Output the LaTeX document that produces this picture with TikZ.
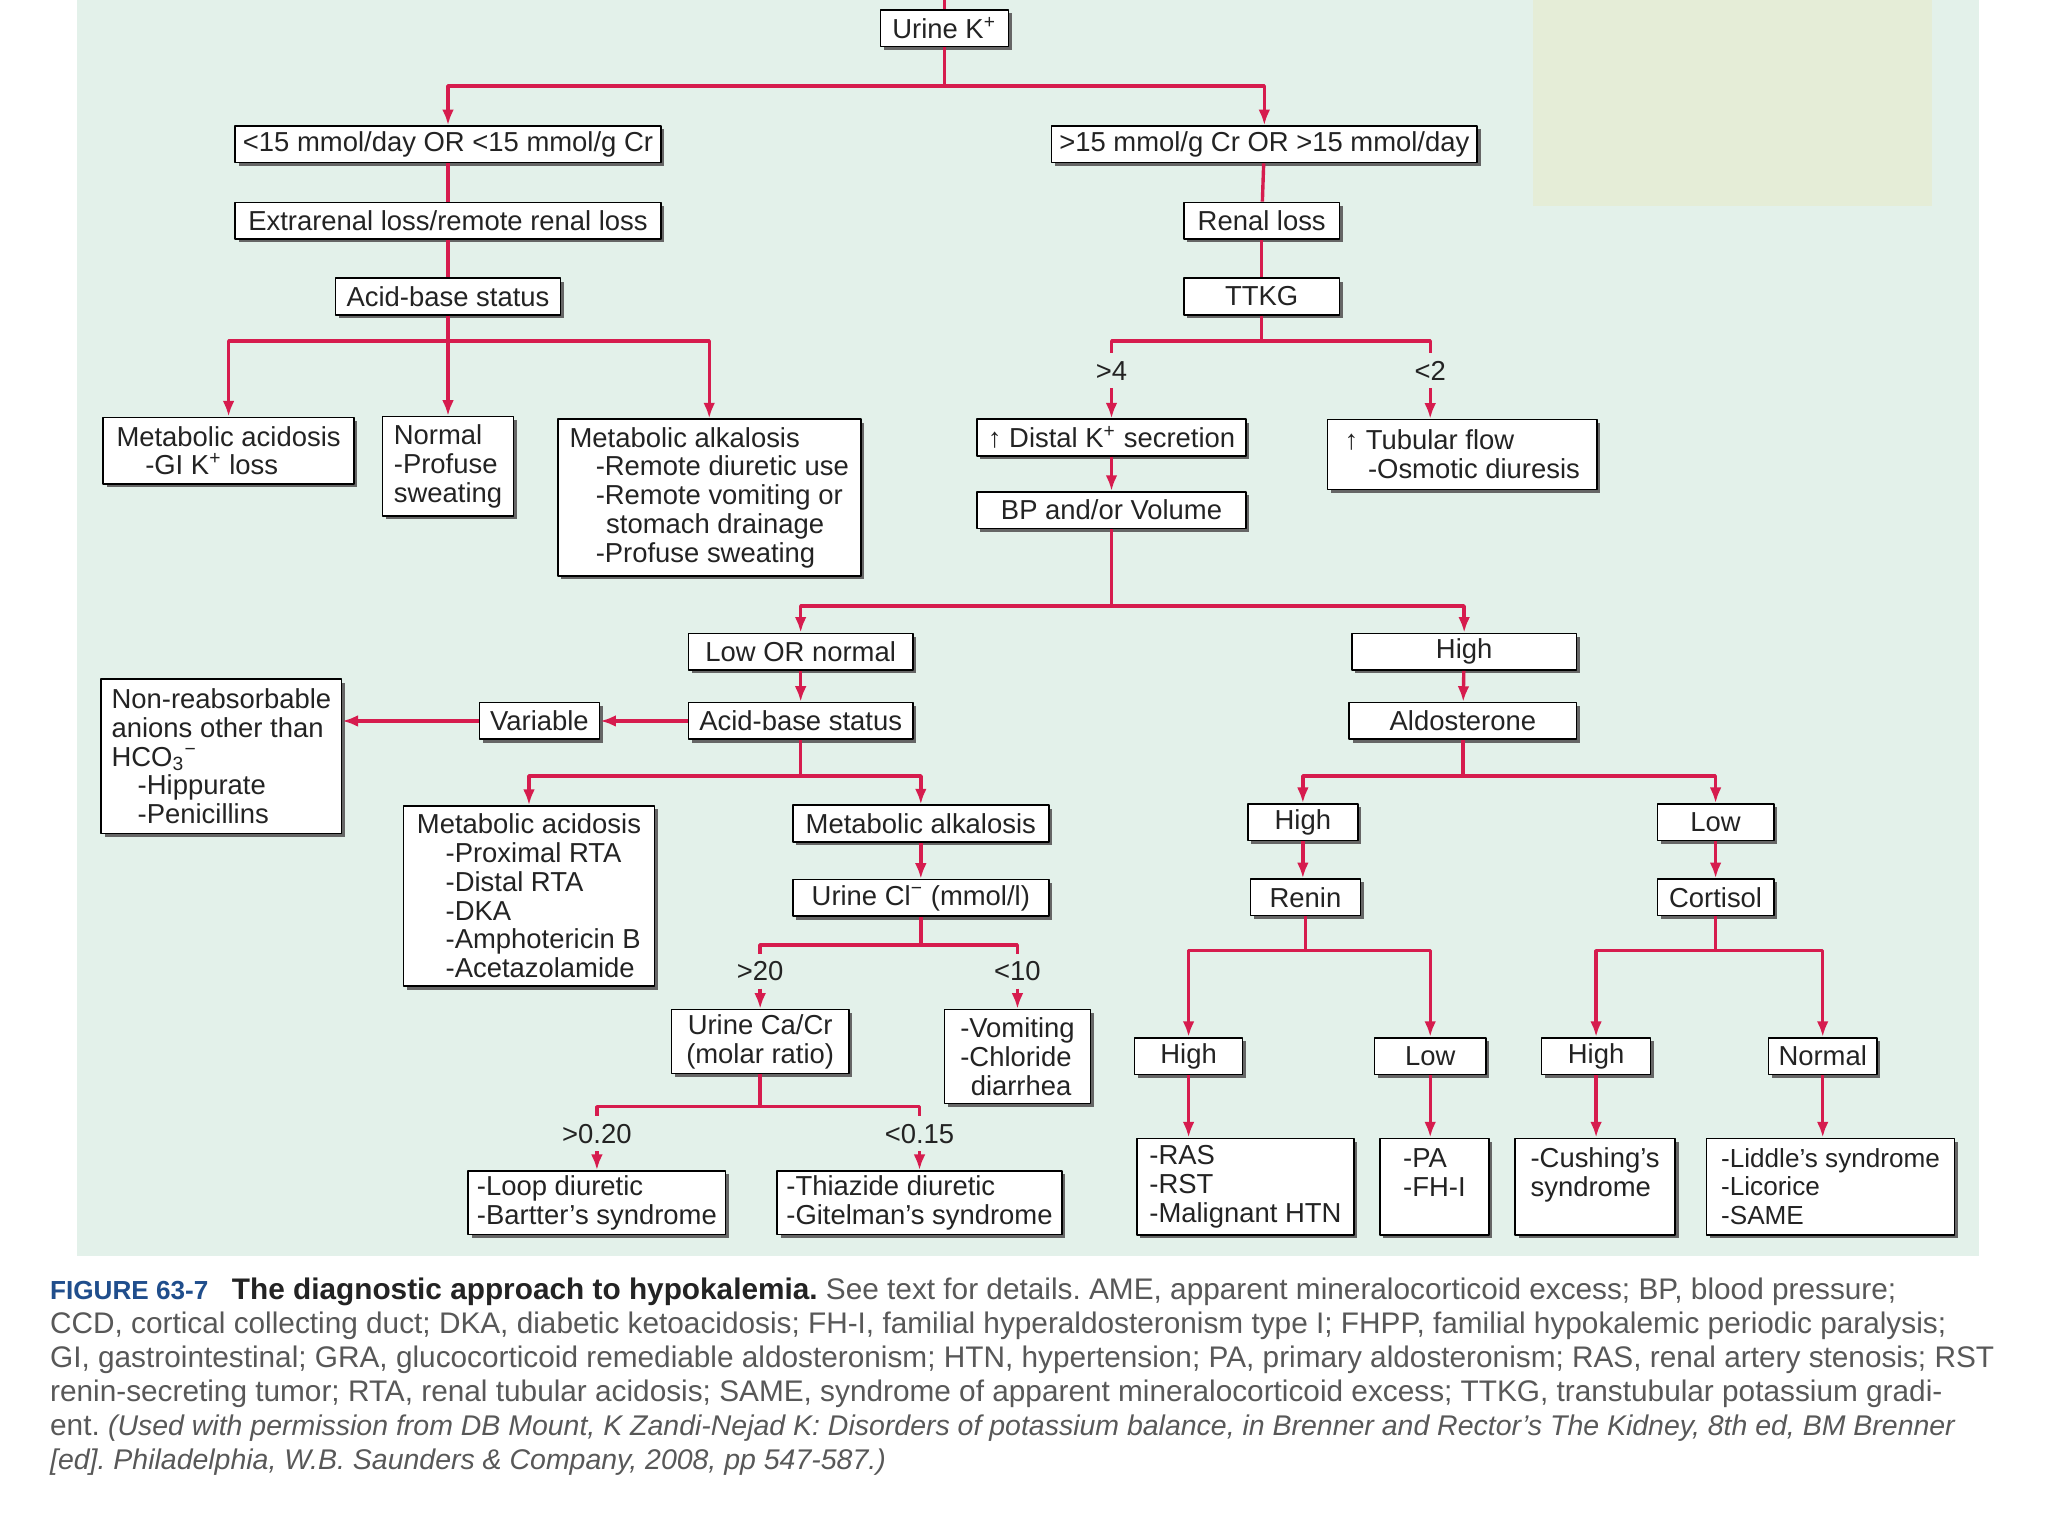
\documentclass[tikz,border=0pt]{standalone}
\usepackage{fontspec}
\setmainfont{Liberation Sans}
\usepackage{tikz}
\usetikzlibrary{arrows.meta}
\usetikzlibrary{shadows}

\definecolor{linkred}{RGB}{214,28,78}
\definecolor{bggreen}{RGB}{227,241,234}
\definecolor{bgyellow}{RGB}{229,237,215}
\definecolor{figblue}{RGB}{32,78,140}
\definecolor{capgray}{RGB}{88,88,88}
\definecolor{txtdark}{RGB}{35,35,35}

\newcommand{\diagfont}{\fontsize{10.5}{11}\selectfont}
\newcommand{\capfont}{\fontsize{11.4}{13}\selectfont\frenchspacing}
\newcommand{\capital}{\fontsize{10.9}{13}\selectfont\itshape}

\begin{document}
\begin{tikzpicture}[x=0.5pt,y=-0.5pt,>={Latex[length=6pt,width=4.5pt]},line join=bevel,
  box/.style={draw=black,line width=0.6pt,fill=white,text=txtdark,font=\diagfont,
    inner xsep=3pt,inner ysep=1pt,minimum height=14pt,
    drop shadow={shadow xshift=1.3pt,shadow yshift=-1.3pt,fill=black!60,opacity=1}},
  mbox/.style={box,align=left},
  lbl/.style={text=txtdark,font=\diagfont,inner sep=0pt,minimum height=13pt},
  link/.style={draw=linkred,line width=1.3pt},
  arr/.style={link,->},
]
%% background
\useasboundingbox (0,0) rectangle (1568,1176);
\fill [white] (0,0) rectangle (1568,1176);
\fill [bggreen] (59,0) rectangle (1515,962);
\fill [bgyellow] (1174,0) rectangle (1479,158);
%% boxes
\node (node_urine) at (723,21.5) [box,minimum width=49pt] {Urine K\textsuperscript{+}};
  \node (node_lt15) at (343,110.5) [box,minimum width=163pt] {<15 mmol/day OR <15 mmol/g Cr};
  \node (node_gt15) at (968,110.5) [box,minimum width=163pt] {>15 mmol/g Cr OR >15 mmol/day};
  \node (node_extra) at (343,169) [box,minimum width=163pt] {Extrarenal loss/remote renal loss};
  \node (node_acidA) at (343,227) [box,minimum width=86pt] {Acid-base status};
  \node (node_macidA) at (175,345) [mbox,minimum width=96pt,minimum height=25.5pt] {Metabolic acidosis\\\hspace*{11pt}-GI K\textsuperscript{+} loss};
  \node (node_normalA) at (343,357) [mbox,minimum width=50pt,minimum height=38pt] {Normal\\-Profuse\\sweating};
  \node (node_malkA) at (543,381) [mbox,minimum width=116pt,minimum height=60pt] {Metabolic alkalosis\\\hspace*{10pt}-Remote diuretic use\\\hspace*{10pt}-Remote vomiting or\\\hspace*{14pt}stomach drainage\\\hspace*{10pt}-Profuse sweating};
  \node (node_renal) at (966,169) [box,minimum width=59.5pt] {Renal loss};
  \node (node_ttkg) at (966,227) [box,minimum width=59.5pt] {TTKG};
  \node (node_gt4) at (851,284) [lbl] {>4};
  \node (node_lt2) at (1095,284) [lbl] {<2};
  \node (node_distal) at (851,335) [box,minimum width=103pt] {↑ Distal K\textsuperscript{+} secretion};
  \node (node_tubular) at (1119.5,348) [mbox,minimum width=103pt,minimum height=26.75pt] {↑ Tubular flow\\\hspace*{9pt}-Osmotic diuresis};
  \node (node_bp) at (851,390.5) [box,minimum width=103pt] {BP and/or Volume};
  \node (node_lownorm) at (613,499) [box,minimum width=86pt] {Low OR normal};
  \node (node_highA) at (1121,499) [box,minimum width=86pt] {High};
  \node (node_acidB) at (613,552) [box,minimum width=86pt] {Acid-base status};
  \node (node_variable) at (413,552) [box,minimum width=46pt] {Variable};
  \node (node_nonreab) at (169.5,579) [mbox,minimum width=92pt,minimum height=59pt] {Non-reabsorbable\\anions other than\\HCO\textsubscript{3}\textsuperscript{−}\\\hspace*{10pt}-Hippurate\\\hspace*{10pt}-Penicillins};
  \node (node_macidB) at (405,686) [mbox,minimum width=96pt,minimum height=69pt] {Metabolic acidosis\\\hspace*{11pt}-Proximal RTA\\\hspace*{11pt}-Distal RTA\\\hspace*{11pt}-DKA\\\hspace*{11pt}-Amphotericin B\\\hspace*{11pt}-Acetazolamide};
  \node (node_malkB) at (705,630.5) [box,minimum width=98pt] {Metabolic alkalosis};
  \node (node_urinecl) at (705,687.5) [box,minimum width=98pt] {Urine Cl\textsuperscript{−} (mmol/l)};
  \node (node_gt20) at (582,743.5) [lbl] {>20};
  \node (node_lt10) at (779,743.5) [lbl] {<10};
  \node (node_ucacr) at (582,797.5) [box,align=center,minimum width=68pt,minimum height=24.5pt] {Urine Ca/Cr\\(molar ratio)};
  \node (node_vomit) at (779,809) [mbox,minimum width=56pt,minimum height=36pt] {-Vomiting\\-Chloride\\\hspace*{4pt}diarrhea};
  \node (node_gt020) at (457,868) [lbl] {>0.20};
  \node (node_lt015) at (704,868) [lbl] {<0.15};
  \node (node_loop) at (457,920.75) [mbox,minimum width=98.5pt,minimum height=24.25pt] {-Loop diuretic\\-Bartter's syndrome};
  \node (node_thiaz) at (704,920.75) [mbox,minimum width=109pt,minimum height=24.25pt] {-Thiazide diuretic\\-Gitelman's syndrome};
  \node (node_aldo) at (1120,552) [box,minimum width=87pt] {Aldosterone};
  \node (node_highB) at (997.5,629.5) [box,minimum width=42pt] {High};
  \node (node_lowB) at (1313.5,629.5) [box,minimum width=44.5pt] {Low};
  \node (node_renin) at (999.5,687) [box,minimum width=42pt] {Renin};
  \node (node_cortisol) at (1313.5,687) [box,minimum width=44.5pt] {Cortisol};
  \node (node_highC) at (910,808.5) [box,minimum width=41.25pt] {High};
  \node (node_lowC) at (1095,808.5) [box,minimum width=42.5pt] {Low};
  \node (node_highD) at (1222,808.5) [box,minimum width=41.75pt] {High};
  \node (node_normalD) at (1395.5,808.5) [box,minimum width=41.5pt] {Normal};
  \node (node_ras) at (953.5,908.5) [mbox,minimum width=83pt,minimum height=37pt] {-RAS\\-RST\\-Malignant HTN};
  \node (node_pa) at (1098.25,908.5) [mbox,minimum width=41.75pt,minimum height=37pt] {-PA\\-FH-I\\\mbox{}};
  \node (node_cush) at (1221.25,908.5) [mbox,minimum width=61.25pt,minimum height=37pt] {-Cushing's\\syndrome\\\mbox{}};
  \node (node_liddle) at (1401.5,908.5) [mbox,font=\fontsize{10}{11}\selectfont,minimum width=95pt,minimum height=37pt] {-Liddle's syndrome\\-Licorice\\-SAME};
%% caption
\node (node_caption) at (38,978) [anchor=north west,inner sep=0pt,align=left,font=\capfont,text=capgray] {{\fontsize{10}{13}\selectfont\bfseries\color{figblue}FIGURE 63-7}\hspace{9pt}{\bfseries\color{txtdark}The diagnostic approach to hypokalemia.} See text for details. AME, apparent mineralocorticoid excess; BP, blood pressure;\\
CCD, cortical collecting duct; DKA, diabetic ketoacidosis; FH-I, familial hyperaldosteronism type I; FHPP, familial hypokalemic periodic paralysis;\\
GI, gastrointestinal; GRA, glucocorticoid remediable aldosteronism; HTN, hypertension; PA, primary aldosteronism; RAS, renal artery stenosis; RST\\
renin-secreting tumor; RTA, renal tubular acidosis; SAME, syndrome of apparent mineralocorticoid excess; TTKG, transtubular potassium gradi-\\
ent. {\capital (Used with permission from DB Mount, K Zandi-Nejad K: Disorders of potassium balance, in Brenner and Rector's The Kidney, 8th ed, BM Brenner}\\
{\capital [ed]. Philadelphia, W.B. Saunders \& Company, 2008, pp 547-587.)}};
%% junctions
\coordinate (top_in) at (723,0);
\coordinate (j_top) at (723,66);
\coordinate (j_acidA) at (343,261);
\coordinate (j_ttkg) at (966,261);
\coordinate (j_bp) at (851,464);
\coordinate (j_acidB) at (613,594);
\coordinate (j_ucl) at (705,723.5);
\coordinate (j_uca) at (582,847);
\coordinate (j_aldo) at (1120,594);
\coordinate (j_renin) at (999.5,727.5);
\coordinate (j_cort) at (1313.5,727.5);
%% connectors
\draw [link] (top_in) -- (node_urine);
\draw [link] (node_urine) -- (j_top);
\draw [arr] (j_top) -| (node_lt15);
\draw [arr] (j_top) -| (node_gt15);
\draw [link] (node_lt15) -- (node_extra);
\draw [link] (node_extra) -- (node_acidA);
\draw [link] (node_acidA) -- (j_acidA);
\draw [arr] (j_acidA) -| (node_macidA);
\draw [arr] (j_acidA) -- (node_normalA);
\draw [arr] (j_acidA) -| (node_malkA);
\draw [link] (node_gt15) -- (node_renal);
\draw [link] (node_renal) -- (node_ttkg);
\draw [link] (node_ttkg) -- (j_ttkg);
\draw [link] (j_ttkg) -| (node_gt4);
\draw [link] (j_ttkg) -| (node_lt2);
\draw [arr] (node_gt4) -- (node_distal);
\draw [arr] (node_lt2) -- (node_lt2 |- node_tubular.north);
\draw [arr] (node_distal) -- (node_bp);
\draw [link] (node_bp) -- (j_bp);
\draw [arr] (j_bp) -| (node_lownorm);
\draw [arr] (j_bp) -| (node_highA);
\draw [arr] (node_lownorm) -- (node_acidB);
\draw [arr] (node_acidB) -- (node_variable);
\draw [arr] (node_variable) -- (node_variable -| node_nonreab.east);
\draw [link] (node_acidB) -- (j_acidB);
\draw [arr] (j_acidB) -| (node_macidB);
\draw [arr] (j_acidB) -| (node_malkB);
\draw [arr] (node_malkB) -- (node_urinecl);
\draw [link] (node_urinecl) -- (j_ucl);
\draw [link] (j_ucl) -| (node_gt20);
\draw [link] (j_ucl) -| (node_lt10);
\draw [arr] (node_gt20) -- (node_gt20 |- node_ucacr.north);
\draw [arr] (node_lt10) -- (node_lt10 |- node_vomit.north);
\draw [link] (node_ucacr) -- (j_uca);
\draw [link] (j_uca) -| (node_gt020);
\draw [link] (j_uca) -| (node_lt015);
\draw [arr] (node_gt020) -- (node_gt020 |- node_loop.north);
\draw [arr] (node_lt015) -- (node_lt015 |- node_thiaz.north);
\draw [arr] (node_highA) -- (node_aldo);
\draw [link] (node_aldo) -- (j_aldo);
\draw [arr] (j_aldo) -| (node_highB);
\draw [arr] (j_aldo) -| (node_lowB);
\draw [arr] (node_highB) -- (node_highB |- node_renin.north);
\draw [arr] (node_lowB) -- (node_cortisol);
\draw [link] (node_renin) -- (j_renin);
\draw [arr] (j_renin) -| (node_highC);
\draw [arr] (j_renin) -| (node_lowC);
\draw [link] (node_cortisol) -- (j_cort);
\draw [arr] (j_cort) -| (node_highD);
\draw [arr] (j_cort) -| (node_normalD);
\draw [arr] (node_highC) -- (node_highC |- node_ras.north);
\draw [arr] (node_lowC) -- (node_lowC |- node_pa.north);
\draw [arr] (node_highD) -- (node_highD |- node_cush.north);
\draw [arr] (node_normalD) -- (node_normalD |- node_liddle.north);
%
\end{tikzpicture}
\end{document}
